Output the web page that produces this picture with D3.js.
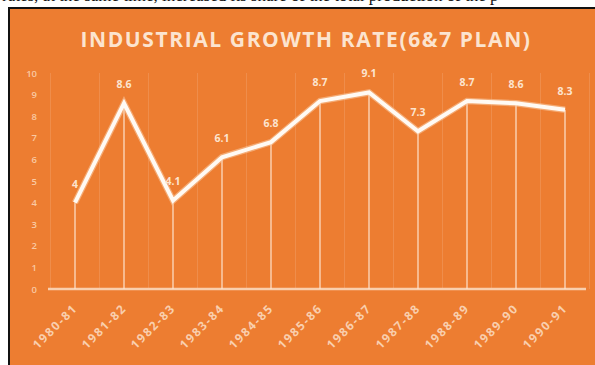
<!DOCTYPE html>
<html>
<head>
<meta charset="utf-8">
<script src="https://cdn.jsdelivr.net/npm/d3@7"></script>
<style>
  html, body { margin: 0; padding: 0; background: #ffffff; overflow: hidden; }
  svg { display: block; }
</style>
</head>
<body>
<svg id="chart" width="595" height="365"></svg>
<script>
// Plan years and industrial growth rate (%)
const years = ["1980-81", "1981-82", "1982-83", "1983-84", "1984-85", "1985-86",
               "1986-87", "1987-88", "1988-89", "1989-90", "1990-91"];
const growth = [4, 8.6, 4.1, 6.1, 6.8, 8.7, 9.1, 7.3, 8.7, 8.6, 8.3];
const yTicks = [0, 1, 2, 3, 4, 5, 6, 7, 8, 9, 10];
const title = "INDUSTRIAL GROWTH RATE(6&7 PLAN)";
const runningText = "rates, at the same time, increased its share of the total production of the p";

const svg = d3.select("#chart");
const W = 595, H = 365;

// running text of the page above the figure (only its lower edge shows)
svg.append("text")
  .attr("x", 2).attr("y", 1)
  .attr("font-family", "'Liberation Serif', 'Times New Roman', serif")
  .attr("font-size", 17)
  .attr("fill", "#111")
  .text(runningText);

// figure frame
svg.append("rect")
  .attr("x", 8).attr("y", 7)
  .attr("width", W - 8).attr("height", H - 7)
  .attr("fill", "#111");
svg.append("rect")
  .attr("x", 10).attr("y", 9)
  .attr("width", W - 10).attr("height", H - 9)
  .attr("fill", "#ED7D31");

const x = d3.scalePoint().domain(years).range([75, 565]);
const y = d3.scaleLinear().domain([0, 10]).range([289, 73]);

// title
svg.append("text")
  .attr("x", 306).attr("y", 47)
  .attr("text-anchor", "middle")
  .attr("font-family", "'Open Sans', sans-serif")
  .attr("font-weight", 700)
  .attr("font-size", 21)
  .attr("letter-spacing", 1.6)
  .attr("fill", "#FCE4CF")
  .text(title);

// faint vertical guides between categories
const step = x.step();
const guides = d3.range(years.length + 1).map(i => 75 - step / 2 + i * step);
svg.append("g")
  .selectAll("line")
  .data(guides)
  .join("line")
  .attr("x1", d => d).attr("x2", d => d)
  .attr("y1", y(10)).attr("y2", y(0))
  .attr("stroke", "#F6B489")
  .attr("stroke-opacity", 0.3)
  .attr("stroke-width", 1);

// y axis labels
const yAxis = d3.axisLeft(y).tickValues(yTicks).tickSize(0).tickPadding(0);
const gy = svg.append("g").attr("transform", "translate(37,0)").call(yAxis);
gy.select(".domain").remove();
gy.selectAll("text")
  .attr("font-family", "'Open Sans', sans-serif")
  .attr("font-size", 9.5)
  .attr("font-weight", 600)
  .attr("fill", "#F9C9A3");

// baseline
svg.append("line")
  .attr("x1", 48).attr("x2", 586)
  .attr("y1", y(0)).attr("y2", y(0))
  .attr("stroke", "#F9CFAE")
  .attr("stroke-width", 2.5);

// drop lines from each point
svg.append("g")
  .selectAll("line")
  .data(growth)
  .join("line")
  .attr("x1", (d, i) => x(years[i])).attr("x2", (d, i) => x(years[i]))
  .attr("y1", d => y(d)).attr("y2", y(0))
  .attr("stroke", "#FDE3CE")
  .attr("stroke-width", 1.2);

// growth line
const line = d3.line()
  .x((d, i) => x(years[i]))
  .y(d => y(d));
svg.append("path")
  .datum(growth)
  .attr("d", line)
  .attr("fill", "none")
  .attr("stroke", "#F9C8A0")
  .attr("stroke-width", 6.5)
  .attr("stroke-opacity", 0.6)
  .attr("stroke-linejoin", "miter");
svg.append("path")
  .datum(growth)
  .attr("d", line)
  .attr("fill", "none")
  .attr("stroke", "#FFFAF4")
  .attr("stroke-width", 4)
  .attr("stroke-linejoin", "miter");

// value labels
svg.append("g")
  .selectAll("text")
  .data(growth)
  .join("text")
  .attr("x", (d, i) => x(years[i]))
  .attr("y", d => y(d) - 15)
  .attr("text-anchor", "middle")
  .attr("font-family", "'Open Sans', sans-serif")
  .attr("font-weight", 700)
  .attr("font-size", 10.5)
  .attr("fill", "#FCE4CF")
  .text(d => d);

// x axis labels, rotated
const xAxis = d3.axisBottom(x).tickSize(0).tickPadding(0);
const gx = svg.append("g").attr("transform", "translate(0,306)").call(xAxis);
gx.select(".domain").remove();
gx.selectAll("text")
  .attr("transform", "rotate(-45)")
  .attr("text-anchor", "end")
  .attr("dy", "0.35em")
  .attr("dx", 0)
  .attr("y", 0)
  .attr("font-family", "'Open Sans', sans-serif")
  .attr("font-weight", 700)
  .attr("font-size", 12)
  .attr("letter-spacing", 1.8)
  .attr("fill", "#F9CFAE");
</script>
</body>
</html>
